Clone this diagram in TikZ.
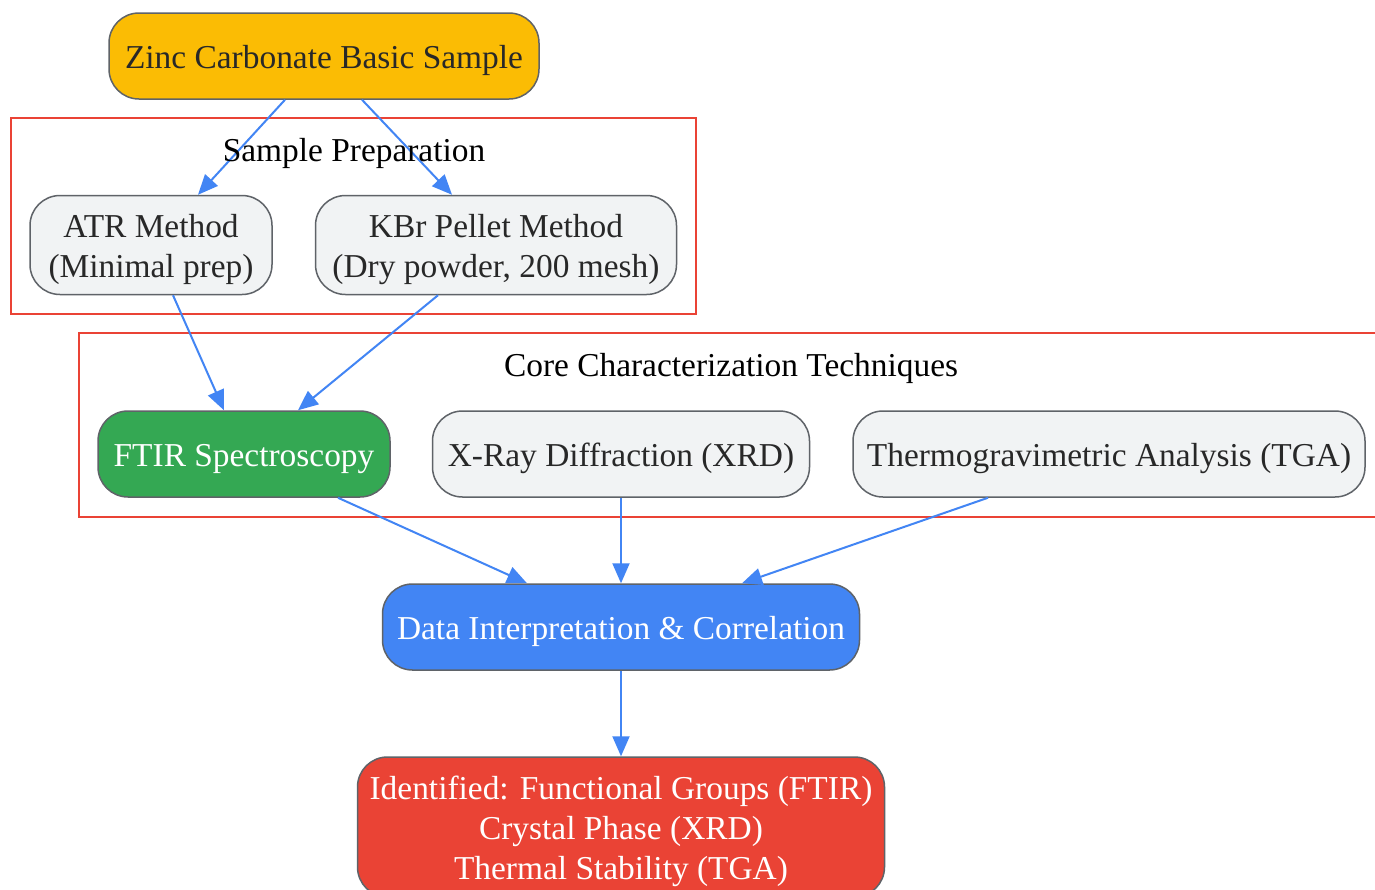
\documentclass[tikz,border=0pt]{standalone}
\usepackage{fontspec}
\setmainfont{Liberation Serif}
\usepackage{tikz}
\usetikzlibrary{arrows.meta}
\usetikzlibrary{calc}
\usetikzlibrary{positioning}
\definecolor{gyellow}{HTML}{FBBC04}
\definecolor{ggreen}{HTML}{34A853}
\definecolor{gblue}{HTML}{4285F4}
\definecolor{gred}{HTML}{EA4335}
\definecolor{glight}{HTML}{F1F3F4}
\definecolor{gborder}{HTML}{5F6368}
\definecolor{gtext}{HTML}{282828}
\tikzset{box/.style = {draw = gborder, line width = 0.75pt, rounded corners = 15pt, fill = glight, text = gtext, align = center, inner sep = 1pt, font = \fontsize{16.7}{20}\selectfont, text height = 14pt, text depth = 2pt},
         twoline/.style = {text height = 34pt, text depth = 2pt},
         threeline/.style = {text height = 54pt, text depth = 2pt},
         cluster/.style = {draw = gred, line width = 1pt},
         clabel/.style = {font = \fontsize{16.7}{20}\selectfont, text = black, text height = 14pt, text depth = 2pt},
         link/.style = {draw = gblue, line width = 1pt, -{Triangle[length = 10pt, width = 8.5pt]}}}

\begin{document}
\begin{tikzpicture}[x = 0.5pt, y = -0.5pt]
          \clip (0, 0) rectangle (1375, 889);
          \fill [white] (0, 0) rectangle (1375, 889);

          \draw [cluster] (11, 118) rectangle (696, 314);
          \draw [cluster] (79, 333) rectangle (1390, 517);

          \node [box, fill = gyellow, minimum width = 215pt, minimum height = 43pt] (zinc) at (324, 56) {Zinc Carbonate Basic Sample};

          \node [box, twoline, minimum width = 121pt, minimum height = 49.5pt] (atr) at (151, 245) {ATR Method\\(Minimal prep)};
          \node [box, twoline, minimum width = 180.5pt, minimum height = 49.5pt] (kbr) at (496, 245) {KBr Pellet Method\\(Dry powder, 200 mesh)};

          \node [box, fill = ggreen, text = white, minimum width = 146pt, minimum height = 43pt] (ftir) at (244, 454) {FTIR Spectroscopy};
          \node [box, minimum width = 188.5pt, minimum height = 43pt] (xrd) at (621, 454) {X-Ray Diffraction (XRD)};
          \node [box, minimum width = 256pt, minimum height = 43pt] (tga) at (1109, 454) {Thermogravimetric Analysis (TGA)};

          \node [box, fill = gblue, text = white, minimum width = 238.5pt, minimum height = 43pt] (data) at (621, 627) {Data Interpretation \& Correlation};
          \node [box, threeline, fill = gred, text = white, minimum width = 263.5pt, minimum height = 70pt] (ident) at (621, 827) {Identified: Functional Groups (FTIR)\\Crystal Phase (XRD)\\Thermal Stability (TGA)};

          \draw [link] ($(zinc.south) + (-39, 0)$) -- ($(atr.north) + (47, 0)$);
          \draw [link] ($(zinc.south) + (38, 0)$) -- ($(kbr.north) + (-44, 0)$);
          \draw [link] ($(atr.south) + (22, 0)$) -- ($(ftir.north) + (-20, 0)$);
          \draw [link] ($(kbr.south) + (-58, 0)$) -- ($(ftir.north) + (54, 0)$);
          \draw [link] ($(ftir.south) + (94, 0)$) -- ($(data.north) + (-94, 0)$);
          \draw [link] (xrd.south) -- (data.north);
          \draw [link] ($(tga.south) + (-121, 0)$) -- ($(data.north) + (121, 0)$);
          \draw [link] (data.south) -- (ident.north);

          \node [clabel] (prep) at (354, 149) {Sample Preparation};
          \node [clabel] (core) at (731, 364) {Core Characterization Techniques};
        \end{tikzpicture}
\end{document}
